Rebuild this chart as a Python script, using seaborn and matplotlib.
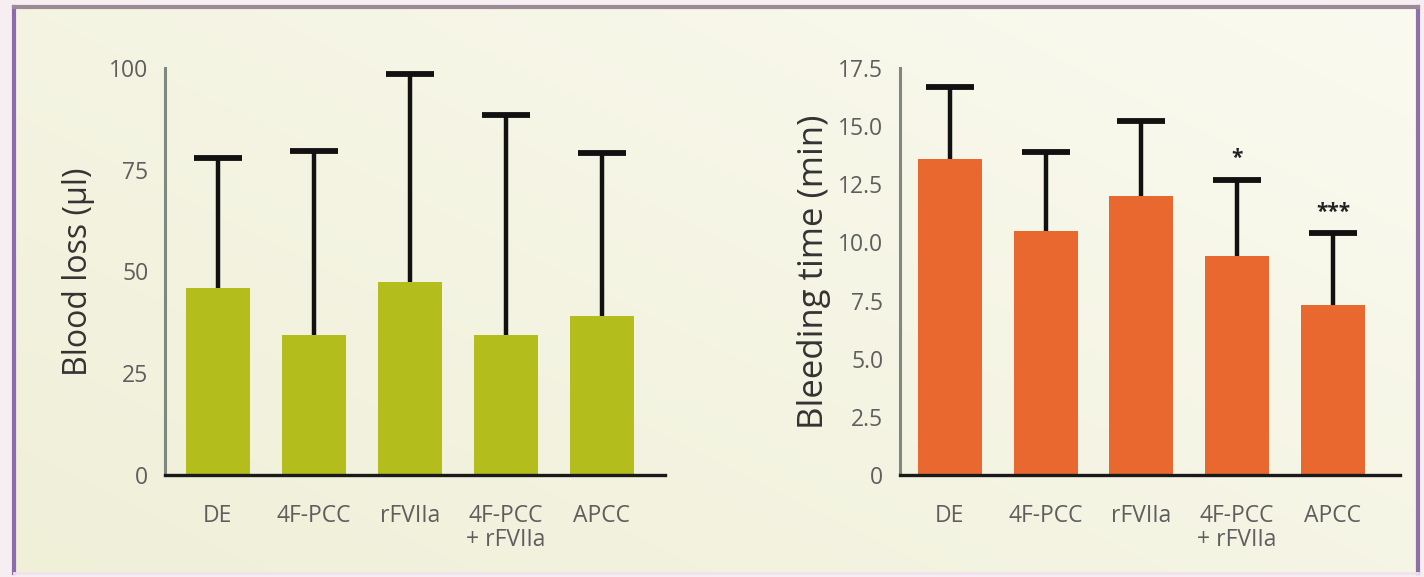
import numpy as np
import pandas as pd
import matplotlib
matplotlib.use("Agg")
import matplotlib.pyplot as plt
import seaborn as sns

# Treatment groups and measurements
groups = ["DE", "4F-PCC", "rFVIIa", "4F-PCC\n+ rFVIIa", "APCC"]
blood_loss = [46, 34.5, 47.5, 34.5, 39]
blood_loss_err = [32, 45, 51, 54, 40]
bleeding_time = [13.6, 10.5, 12.0, 9.4, 7.3]
bleeding_time_err = [3.1, 3.4, 3.2, 3.3, 3.1]
significance = ["", "", "", "*", "***"]

sns.set_theme(style="white")
plt.rcParams["font.family"] = ["Open Sans", "DejaVu Sans"]

fig = plt.figure(figsize=(14.24, 5.77), dpi=100)
fig.patch.set_facecolor("#f6eef0")

# Cream panel background with a soft gradient
bg = fig.add_axes([14 / 1424, 4 / 577, 1404 / 1424, 566 / 577])
yy, xx = np.mgrid[0:1:200j, 0:1:400j]
t = 0.55 * xx + 0.45 * (1 - yy)
c0 = np.array([0xf0, 0xef, 0xd8]) / 255
c1 = np.array([0xfa, 0xfa, 0xf0]) / 255
img = c0[None, None, :] * (1 - t[..., None]) + c1[None, None, :] * t[..., None]
bg.imshow(img, aspect="auto", extent=[0, 1, 0, 1], origin="upper")
bg.set_xlim(0, 1)
bg.set_ylim(0, 1)
bg.set_xticks([])
bg.set_yticks([])
for side, col, lw in [("left", "#8a6cae", 3), ("top", "#9d8a97", 3),
                      ("right", "#8e70a8", 3), ("bottom", "#f0e2ee", 2)]:
    bg.spines[side].set_color(col)
    bg.spines[side].set_linewidth(lw)
    bg.spines[side].set_visible(True)

tick_color = "#5e5e5e"


def style_axes(ax):
    ax.set_facecolor("none")
    for s in ["top", "right"]:
        ax.spines[s].set_visible(False)
    ax.spines["left"].set_color("#7c8880")
    ax.spines["left"].set_linewidth(2.2)
    ax.spines["bottom"].set_color("#1a1a1a")
    ax.spines["bottom"].set_linewidth(2.4)
    ax.tick_params(axis="y", direction="out", length=7, width=3,
                   color="#111111", labelsize=16.5, labelcolor=tick_color, pad=5)
    ax.tick_params(axis="x", direction="out", length=8, width=2.2,
                   color="#111111", labelsize=16.5, labelcolor=tick_color, pad=13)
    for lab in ax.get_xticklabels():
        lab.set_linespacing(1.0)
    ax.set_xlabel("")


def draw_panel(ax, values, errs, color):
    df = pd.DataFrame({"group": groups, "value": values})
    sns.barplot(data=df, x="group", y="value", color=color, saturation=1,
                width=0.67, errorbar=None, linewidth=0, ax=ax, zorder=2)
    x = np.arange(len(groups))
    _, caps, _ = ax.errorbar(x, values, yerr=[np.zeros(len(values)), errs],
                             fmt="none", ecolor="#111111", elinewidth=3.2,
                             capsize=17, capthick=4.2, zorder=1)
    # upper-only error bars: hide the cap sitting on the bar top
    caps[0].set_visible(False)


# Left panel: blood loss
ax1 = fig.add_axes([165 / 1424, 102 / 577, 500 / 1424, 407 / 577])
draw_panel(ax1, blood_loss, blood_loss_err, "#b3bd1c")
ax1.set_ylim(0, 100)
ax1.set_xlim(-0.55, 4.66)
ax1.set_yticks([0, 25, 50, 75, 100])
ax1.set_yticklabels(["0", "25", "50", "75", "100"])
ax1.set_ylabel("Blood loss (µl)", fontsize=23, color="#333333", labelpad=10)
style_axes(ax1)

# Right panel: bleeding time
ax2 = fig.add_axes([900 / 1424, 102 / 577, 500 / 1424, 407 / 577])
draw_panel(ax2, bleeding_time, bleeding_time_err, "#e9682f")
ax2.set_ylim(0, 17.5)
ax2.set_xlim(-0.52, 4.70)
ax2.set_yticks([0, 2.5, 5, 7.5, 10, 12.5, 15, 17.5])
ax2.set_yticklabels(["0", "2.5", "5.0", "7.5", "10.0", "12.5", "15.0", "17.5"])
ax2.set_ylabel("Bleeding time (min)", fontsize=25, color="#333333", labelpad=5)
style_axes(ax2)

for i, (v, e, s) in enumerate(zip(bleeding_time, bleeding_time_err, significance)):
    if s:
        ax2.text(i, v + e + 0.45, s, ha="center", va="bottom", fontsize=15,
                 color="#222222", fontweight="bold")

fig.savefig("out.png", dpi=100, facecolor=fig.get_facecolor())
